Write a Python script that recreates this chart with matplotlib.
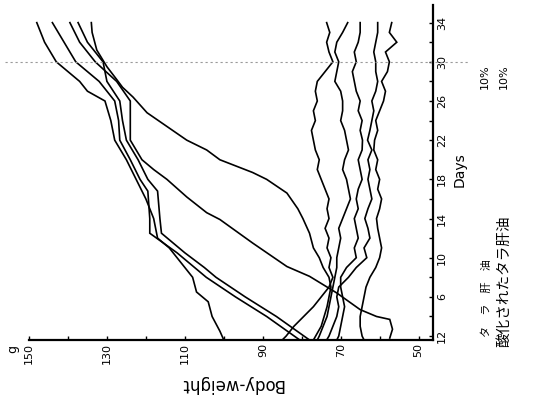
import matplotlib.pyplot as plt

# days for the daily-read curves (first point sits on the weight axis)
days_daily = [1.6, 2, 3, 4, 5, 6, 7, 8, 9, 10, 11, 12, 13, 14, 15, 16, 17, 18,
              19, 20, 21, 22, 23, 24, 25, 26, 27, 28, 29, 30, 31, 32, 33, 34]

# タラ肝油 10% group (growing rats)
g1_days = [1.6, 2.5, 4, 5.5, 6.5, 8, 9, 10, 11, 12, 14, 16, 18, 20, 22, 24, 26, 27, 28, 30, 32, 34]
g1_wt = [100, 101, 103, 104, 107, 108, 110, 112, 114, 117, 118, 120, 122.5, 125, 128, 129,
         130.5, 135, 137, 143, 146, 148]

p_days = [1.6, 4, 6, 8, 9, 10.5, 12.5, 14, 16.8, 18, 20, 22, 24, 26, 28, 30, 32, 34]
p1_wt = [80.5, 89, 97, 104.5, 107.5, 112, 119, 119, 119.5, 121.5, 124, 126.7, 127, 128,
         132, 138, 141, 144]
p2_wt = [78, 86.5, 94.5, 102, 105, 110, 116, 116.4, 117, 119.5, 122, 125, 126, 126.7,
         130, 131, 135, 137.4]

v_days = [1.8, 2.7, 3.7, 4, 4.7, 6.4, 8.1, 9.1, 11.5, 13.9, 14.6, 16.2, 18, 19, 20, 22,
          24, 26, 28, 30, 32, 34]
v_wt = [57.4, 56.7, 57.4, 60.8, 65, 71, 78, 83.8, 92.6, 101, 104.4, 109.5, 114.6, 118,
        121, 124, 124, 124, 127.5, 133, 137, 139.5]

u_days = [1.6, 3, 5, 7, 8, 9, 10, 11, 12.5, 14, 15, 16.6, 18, 18.7, 20, 21, 22, 23.4,
          24.8, 26.4, 27.4, 28.2, 29.5, 31.2, 33, 34]
u_wt = [77, 75, 73.5, 72.5, 73, 74.5, 75.5, 77, 78, 79.7, 81, 83.8, 89, 92.6, 101, 104.4,
        109.5, 114.6, 119.7, 123.3, 126, 127.5, 130, 132.6, 133.8, 134]

# 酸化されたタラ肝油 10% group (flat rats)
f1_wt = [85, 84, 82, 79.5, 77, 75, 73, 72, 73, 72.5, 73.5, 73, 74, 73, 73.5, 73, 74, 75,
         76, 75.5, 76.5, 77, 77.5, 76.5, 77, 76, 76.5, 76, 74, 72, 73, 73.6, 72.8, 73.6]
f2_wt = [76, 75.5, 74.5, 73.5, 73, 72.5, 72, 71.5, 71, 71, 70.5, 70, 70.5, 69.5, 68.5,
         67.5, 68, 68.5, 69.5, 69, 68, 68.5, 69, 70, 69.5, 69.5, 70, 71.5, 71, 70.5, 71.5,
         71, 69.5, 68.2]
f3_wt = [71, 70.5, 70, 69.5, 69, 69.5, 70, 70, 68.5, 66, 66.5, 65.5, 66, 66.5, 65.5, 66,
         65.5, 64.5, 65, 65.5, 64.5, 64.4, 65, 64.5, 65.5, 65, 66, 66.5, 67, 66, 66.5,
         65.5, 65, 65]
f4_wt = [73.6, 73, 72, 71, 70.5, 71, 70.5, 68, 66, 63.3, 64, 62.5, 63, 63.8, 63, 62,
         62.5, 63, 62.5, 63, 62, 63.1, 62.5, 62, 61.5, 62, 61, 60.5, 61, 61, 61.5, 61,
         60.5, 60.5]
f5_wt = [64, 64.5, 65, 65, 64.5, 64, 63.5, 62.5, 61, 60, 59.5, 60, 60.5, 60.8, 60, 59.5,
         60.5, 60, 61, 60.5, 61.5, 61.3, 60.5, 61, 60, 59, 58.5, 59.5, 58, 57.5, 58.5,
         55.6, 57.5, 56.9]

wt_ticks = [50, 60, 70, 80, 90, 100, 110, 120, 130, 140, 150]
wt_labels = ["50", "", "70", "", "90", "", "110", "", "130", "", "150"]
day_ticks = [2, 4, 6, 8, 10, 12, 14, 16, 18, 20, 22, 24, 26, 28, 30, 32, 34]
day_labels = ["12", "", "6", "", "10", "", "14", "", "18", "", "22", "", "26", "",
              "30", "", "34"]

fig = plt.figure(figsize=(5.41, 3.97), dpi=100)
ax = fig.add_axes([0.0536, 0.1436, 0.7468, 0.8438])

# chart is printed turned on its side: weight runs right-to-left, days upward
curves = [(g1_days, g1_wt), (p_days, p1_wt), (p_days, p2_wt), (v_days, v_wt),
          (u_days, u_wt), (days_daily, f1_wt), (days_daily, f2_wt),
          (days_daily, f3_wt), (days_daily, f4_wt), (days_daily, f5_wt)]
for d, w in curves:
    ax.plot(w, d, color="black", lw=1.2, solid_joinstyle="miter")

# faint scanned guide line at day 30
ax.axhline(30, xmin=-0.06, xmax=1.09, color="#9a9a9a", lw=0.8,
           ls=(0, (2, 2.5)), clip_on=False)

ax.set_xlim(150, 46.3)
ax.set_ylim(1.6, 35.8)

for side in ("left", "top"):
    ax.spines[side].set_visible(False)
for side in ("bottom", "right"):
    ax.spines[side].set_linewidth(1.6)

ax.yaxis.tick_right()
ax.set_xticks(wt_ticks)
ax.set_xticklabels(wt_labels, rotation=90, fontsize=8)
ax.set_yticks(day_ticks)
ax.set_yticklabels(day_labels, rotation=90, fontsize=8, va="center")
ax.tick_params(axis="x", direction="in", length=3, width=1, pad=2)
ax.tick_params(axis="y", direction="in", length=3, width=1, pad=3)

fig.text(232 / 541, 1 - 384 / 397, "Body-weight", rotation=180,
         ha="center", va="center", fontsize=12)
fig.text(13 / 541, 1 - 349 / 397, "g", rotation=90, ha="center", va="center",
         fontsize=9)
fig.text(460 / 541, 1 - 170 / 397, "Days", rotation=90, ha="center",
         va="center", fontsize=10)

jp = ["Noto Sans CJK JP", "DejaVu Sans"]
fig.text(487 / 541, 1 - 337 / 397, "タ　ラ　肝　油", rotation=90, ha="center",
         va="bottom", fontsize=8, family=jp)
fig.text(504 / 541, 1 - 347 / 397, "酸化されたタラ肝油", rotation=90,
         ha="center", va="bottom", fontsize=10.5, family=jp)
fig.text(485 / 541, 1 - 89 / 397, "10%", rotation=90, ha="center",
         va="bottom", fontsize=8)
fig.text(504 / 541, 1 - 89 / 397, "10%", rotation=90, ha="center",
         va="bottom", fontsize=8)

fig.savefig("out.png", dpi=100)
